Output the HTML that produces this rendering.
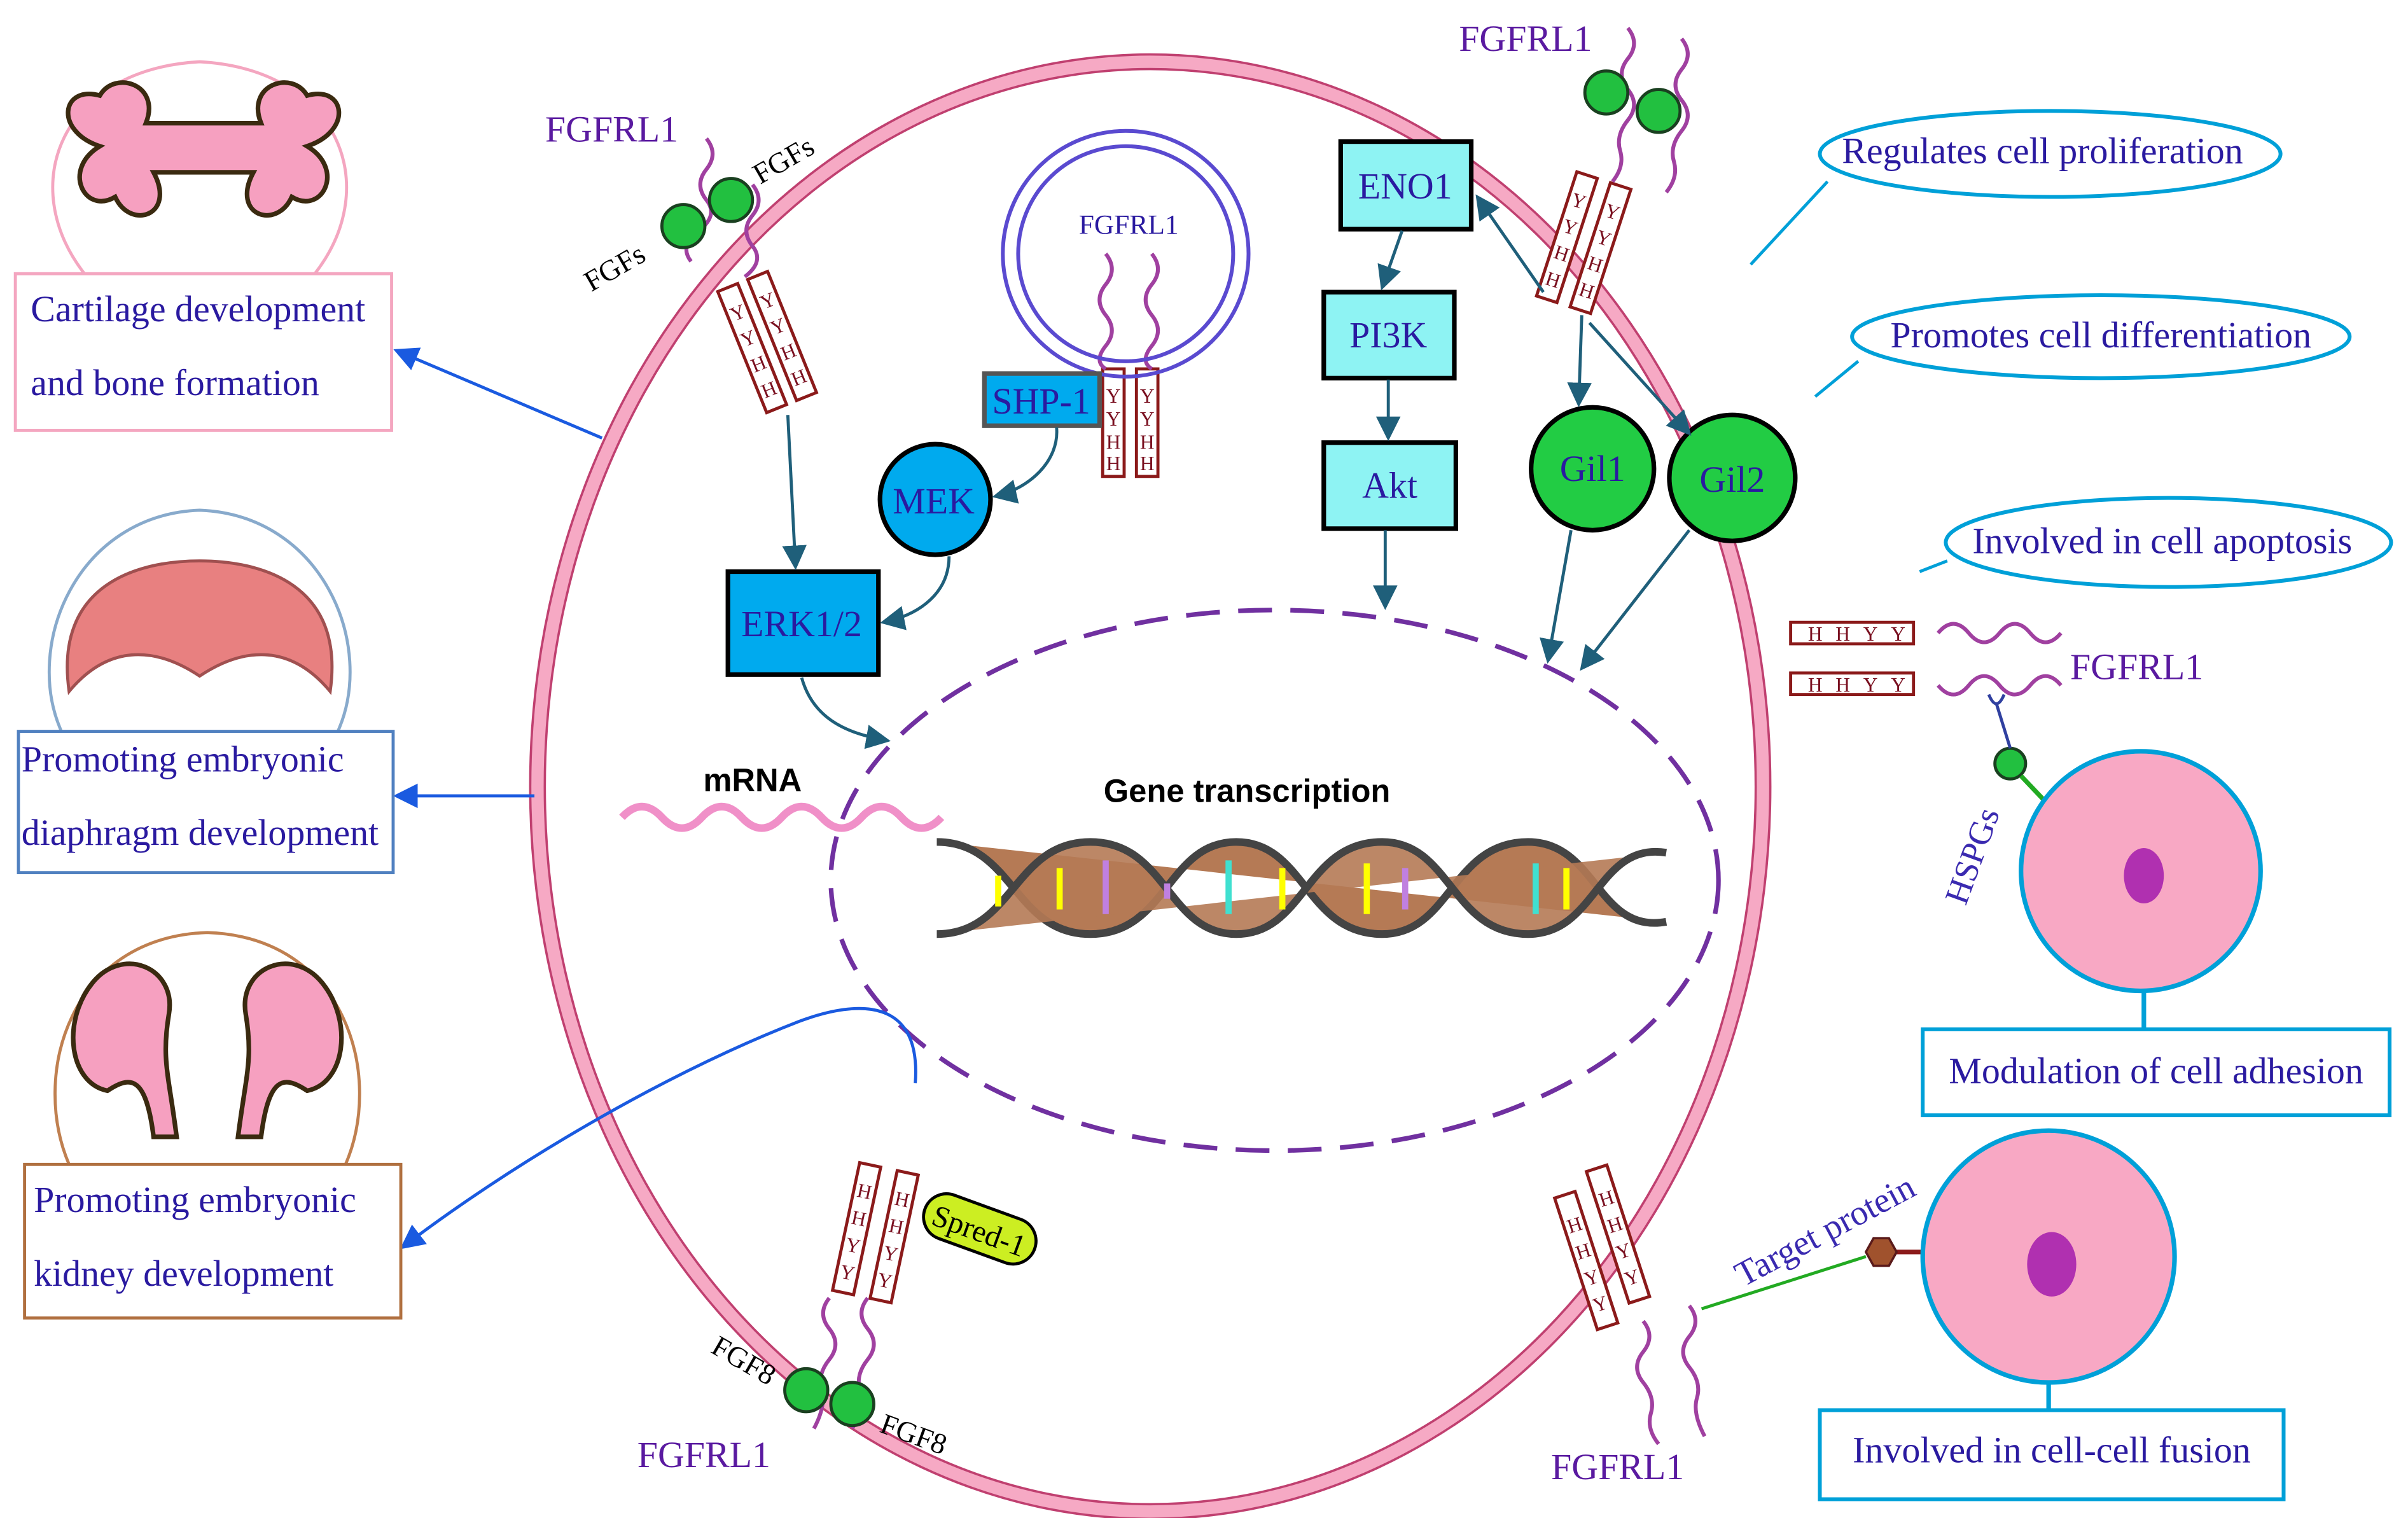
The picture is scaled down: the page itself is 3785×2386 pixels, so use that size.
<!DOCTYPE html>
<html><head><meta charset="utf-8"><style>html,body{margin:0;padding:0;background:#fff}svg{display:block}</style></head><body>
<svg width="3785" height="2386" viewBox="0 0 1568 988" xmlns="http://www.w3.org/2000/svg" font-family="Liberation Serif, serif">
<defs>
<marker id="a" markerWidth="8" markerHeight="8" refX="7" refY="4" orient="auto"><path d="M0,0 L8,4 L0,8 z" fill="#1f5f7a"/></marker>
<marker id="b" markerWidth="8" markerHeight="8" refX="7" refY="4" orient="auto"><path d="M0,0 L8,4 L0,8 z" fill="#1a5ae0"/></marker>
</defs>
<rect width="1568" height="988" fill="#fff"/>
<ellipse cx="749" cy="512" rx="399" ry="472" fill="none" stroke="#c04070" stroke-width="11"/>
<ellipse cx="749" cy="512" rx="399" ry="472" fill="none" stroke="#f6a9c4" stroke-width="8"/>
<ellipse cx="830" cy="573" rx="289" ry="176" fill="none" stroke="#7030a0" stroke-width="3" stroke-dasharray="22,12"/>
<text x="812" y="522" font-family="Liberation Sans, sans-serif" font-weight="bold" font-size="21" text-anchor="middle">Gene transcription</text>
<text x="490" y="515" font-family="Liberation Sans, sans-serif" font-weight="bold" font-size="21" text-anchor="middle">mRNA</text>
<path d="M405,532 q13,-14 26,0 t26,0 t26,0 t26,0 t26,0 t26,0 t26,0 t26,0" fill="none" stroke="#f090c8" stroke-width="5"/>
<path d="M610,548 C660,548 660,608 710,608 C760,608 760,548 805,548 C850,548 850,608 900,608 C945,608 945,548 995,548 C1040,548 1040,608 1085,600" fill="#b57a55" stroke="#444" stroke-width="5"/>
<path d="M610,608 C660,608 660,548 710,548 C760,548 760,608 805,608 C850,608 850,548 900,548 C945,548 945,608 995,608 C1040,608 1040,548 1085,555" fill="#b57a55" stroke="#444" stroke-width="5" fill-opacity="0.9"/>
<g stroke-width="4">
<line x1="690" y1="565" x2="690" y2="592" stroke="#ff0"/><line x1="720" y1="560" x2="720" y2="595" stroke="#c080e0"/><line x1="800" y1="560" x2="800" y2="595" stroke="#40e0d0"/><line x1="835" y1="565" x2="835" y2="592" stroke="#ff0"/><line x1="890" y1="562" x2="890" y2="595" stroke="#ff0"/><line x1="915" y1="565" x2="915" y2="592" stroke="#c080e0"/><line x1="1000" y1="562" x2="1000" y2="595" stroke="#40e0d0"/><line x1="1020" y1="565" x2="1020" y2="592" stroke="#ff0"/><line x1="650" y1="570" x2="650" y2="590" stroke="#ff0"/><line x1="760" y1="575" x2="760" y2="585" stroke="#c080e0"/>
</g>
<g font-size="13" fill="#7a1020" text-anchor="middle">
<g transform="rotate(-22 500 225)"><rect x="483" y="180" width="14" height="85" fill="#fff" stroke="#8b1a1a" stroke-width="2"/><rect x="504" y="180" width="14" height="85" fill="#fff" stroke="#8b1a1a" stroke-width="2"/>
<text x="490" y="202">Y</text><text x="490" y="220">Y</text><text x="490" y="238">H</text><text x="490" y="256">H</text>
<text x="511" y="202">Y</text><text x="511" y="220">Y</text><text x="511" y="238">H</text><text x="511" y="256">H</text></g>
<rect x="718" y="240" width="14" height="70" fill="#fff" stroke="#8b1a1a" stroke-width="2"/><rect x="740" y="240" width="14" height="70" fill="#fff" stroke="#8b1a1a" stroke-width="2"/>
<text x="725" y="262">Y</text><text x="725" y="277">Y</text><text x="725" y="292">H</text><text x="725" y="306">H</text>
<text x="747" y="262">Y</text><text x="747" y="277">Y</text><text x="747" y="292">H</text><text x="747" y="306">H</text>
<g transform="rotate(18 1030 160)"><rect x="1012" y="115" width="14" height="85" fill="#fff" stroke="#8b1a1a" stroke-width="2"/><rect x="1035" y="115" width="14" height="85" fill="#fff" stroke="#8b1a1a" stroke-width="2"/>
<text x="1019" y="137">Y</text><text x="1019" y="155">Y</text><text x="1019" y="173">H</text><text x="1019" y="191">H</text>
<text x="1042" y="137">Y</text><text x="1042" y="155">Y</text><text x="1042" y="173">H</text><text x="1042" y="191">H</text></g>
<rect x="1166" y="405" width="80" height="14" fill="#fff" stroke="#8b1a1a" stroke-width="2"/><rect x="1166" y="438" width="80" height="14" fill="#fff" stroke="#8b1a1a" stroke-width="2"/>
<text x="1182" y="417">H</text><text x="1200" y="417">H</text><text x="1218" y="417">Y</text><text x="1236" y="417">Y</text>
<text x="1182" y="450">H</text><text x="1200" y="450">H</text><text x="1218" y="450">Y</text><text x="1236" y="450">Y</text>
<g transform="rotate(12 570 805)"><rect x="550" y="760" width="14" height="85" fill="#fff" stroke="#8b1a1a" stroke-width="2"/><rect x="575" y="760" width="14" height="85" fill="#fff" stroke="#8b1a1a" stroke-width="2"/>
<text x="557" y="782">H</text><text x="557" y="800">H</text><text x="557" y="818">Y</text><text x="557" y="836">Y</text>
<text x="582" y="782">H</text><text x="582" y="800">H</text><text x="582" y="818">Y</text><text x="582" y="836">Y</text></g>
<g transform="rotate(-18 1050 815)"><rect x="1025" y="770" width="14" height="90" fill="#fff" stroke="#8b1a1a" stroke-width="2"/><rect x="1050" y="760" width="14" height="90" fill="#fff" stroke="#8b1a1a" stroke-width="2"/>
<text x="1032" y="795">H</text><text x="1032" y="813">H</text><text x="1032" y="831">Y</text><text x="1032" y="849">Y</text>
<text x="1057" y="785">H</text><text x="1057" y="803">H</text><text x="1057" y="821">Y</text><text x="1057" y="839">Y</text></g>
</g>
<g fill="none" stroke="#a040a0" stroke-width="2.5">
<path d="M460,90 q8,10 0,20 t0,20 t-5,20 t-5,20"/><path d="M490,120 q8,10 0,20 t0,20 t-5,20"/>
<path d="M720,165 q8,10 0,20 t0,20 t0,20 t0,15"/><path d="M750,165 q8,10 0,20 t0,20 t0,20 t0,15"/>
<path d="M1060,18 q8,10 0,20 t0,20 t0,20 t-5,20 t-5,20"/><path d="M1095,25 q8,10 0,20 t0,20 t0,20 t-5,20 t-5,20"/>
<path d="M1262,412 q10,-12 20,0 t20,0 t20,0 t20,0"/><path d="M1262,446 q10,12 20,0 t20,0 t20,0 t20,0"/>
<path d="M540,845 q-8,10 0,20 t0,20 t-5,20 t-5,25"/><path d="M565,845 q-8,10 0,20 t0,20 t-5,20 t-5,25"/>
<path d="M1070,860 q8,10 0,20 t0,20 t5,20 t5,20"/><path d="M1100,850 q8,10 0,20 t0,20 t5,20 t5,25"/>
</g>
<g fill="#22c040" stroke="#1a4020" stroke-width="2">
<circle cx="445" cy="147" r="14"/><circle cx="476" cy="130" r="14"/>
<circle cx="1046" cy="60" r="14"/><circle cx="1080" cy="72" r="14"/>
<circle cx="525" cy="905" r="14"/><circle cx="555" cy="914" r="14"/>
<circle cx="1309" cy="497" r="10"/>
</g>
<circle cx="733" cy="165" r="80" fill="none" stroke="#5a4ad0" stroke-width="2.5"/>
<circle cx="733" cy="165" r="70" fill="none" stroke="#5a4ad0" stroke-width="2.5"/>
<text x="735" y="152" font-size="18" fill="#2a1aa0" text-anchor="middle">FGFRL1</text>
<g stroke="#000" stroke-width="3">
<rect x="873" y="92" width="85" height="57" fill="#8ef3f3"/>
<rect x="862" y="190" width="85" height="56" fill="#8ef3f3"/>
<rect x="862" y="288" width="86" height="56" fill="#8ef3f3"/>
<rect x="474" y="372" width="98" height="67" fill="#00aaee"/>
<circle cx="609" cy="325" r="36" fill="#00aaee"/>
<circle cx="1037" cy="305" r="40" fill="#22cc44"/>
<circle cx="1128" cy="311" r="41" fill="#22cc44"/>
</g>
<rect x="641" y="243" width="75" height="34" fill="#00aaee" stroke="#555" stroke-width="3"/>
<g font-size="24" fill="#2a1aa0" text-anchor="middle">
<text x="915" y="129">ENO1</text><text x="904" y="226">PI3K</text><text x="905" y="324">Akt</text>
<text x="522" y="414">ERK1/2</text><text x="608" y="334">MEK</text><text x="678" y="269">SHP-1</text>
<text x="1037" y="313">Gil1</text><text x="1128" y="320">Gil2</text>
</g>
<g fill="none" stroke="#1f5f7a" stroke-width="2" marker-end="url(#a)">
<line x1="913" y1="150" x2="900" y2="187"/><line x1="904" y1="247" x2="904" y2="285"/><line x1="902" y1="345" x2="902" y2="395"/>
<line x1="1005" y1="190" x2="962" y2="128"/><line x1="1030" y1="205" x2="1028" y2="263"/><line x1="1035" y1="210" x2="1100" y2="282"/>
<line x1="1023" y1="345" x2="1008" y2="430"/><line x1="1100" y1="345" x2="1030" y2="435"/>
<line x1="513" y1="270" x2="518" y2="369"/>
<path d="M688,278 C690,300 670,318 648,323"/><path d="M618,362 C618,385 600,400 575,405"/>
<path d="M522,441 C530,470 555,478 578,482"/>
</g>
<path d="M596,705 C600,650 560,650 520,665 C430,700 330,760 262,812" fill="none" stroke="#1a5ae0" stroke-width="2" marker-end="url(#b)"/>
<g stroke="#1a5ae0" stroke-width="2" marker-end="url(#b)"><line x1="392" y1="285" x2="258" y2="228"/><line x1="348" y1="518" x2="258" y2="518"/></g>
<g font-size="24" fill="#5a1aa0">
<text x="355" y="92">FGFRL1</text><text x="950" y="33">FGFRL1</text><text x="1348" y="442">FGFRL1</text>
<text x="415" y="955">FGFRL1</text><text x="1010" y="963">FGFRL1</text>
</g>
<g font-size="19" fill="#000">
<text x="385" y="190" transform="rotate(-30 385 190)">FGFs</text><text x="495" y="120" transform="rotate(-30 495 120)">FGFs</text>
<text x="462" y="880" transform="rotate(30 462 880)">FGF8</text><text x="572" y="932" transform="rotate(20 572 932)">FGF8</text>
</g>
<g transform="rotate(20 638 800)"><rect x="600" y="785" width="76" height="30" rx="15" fill="#ccee22" stroke="#000" stroke-width="2"/><text x="638" y="808" font-size="20" text-anchor="middle">Spred-1</text></g>
<path d="M1295,452 q5,12 10,0" fill="none" stroke="#3040a0" stroke-width="2"/>
<line x1="1300" y1="458" x2="1309" y2="487" stroke="#3040a0" stroke-width="2"/>
<line x1="1316" y1="505" x2="1335" y2="525" stroke="#22aa22" stroke-width="3"/>
<text x="1280" y="590" font-size="22" fill="#3a2ab0" transform="rotate(-70 1280 590)">HSPGs</text>
<line x1="1108" y1="852" x2="1215" y2="818" stroke="#22aa22" stroke-width="2"/>
<line x1="1232" y1="815" x2="1255" y2="815" stroke="#8b1a1a" stroke-width="3"/>
<polygon points="1215,815 1220,806 1230,806 1235,815 1230,824 1220,824" fill="#a0522d" stroke="#5a1a1a" stroke-width="1.5"/>
<text x="1135" y="838" font-size="23" fill="#3a2ab0" transform="rotate(-28 1135 838)">Target protein</text>
<circle cx="1394" cy="567" r="78" fill="#f8a8c4" stroke="#00a0d8" stroke-width="3"/>
<ellipse cx="1396" cy="570" rx="13" ry="18" fill="#b030b0"/>
<circle cx="1334" cy="818" r="82" fill="#f8a8c4" stroke="#00a0d8" stroke-width="3"/>
<ellipse cx="1336" cy="823" rx="16" ry="21" fill="#b030b0"/>
<line x1="1396" y1="645" x2="1396" y2="670" stroke="#00a0d8" stroke-width="3"/>
<line x1="1334" y1="900" x2="1334" y2="918" stroke="#00a0d8" stroke-width="3"/>
<g fill="#fff" stroke="#00a0d8" stroke-width="2.5">
<ellipse cx="1335" cy="100" rx="150" ry="28"/><ellipse cx="1368" cy="219" rx="162" ry="27"/><ellipse cx="1412" cy="353" rx="145" ry="29"/>
<rect x="1252" y="670" width="304" height="56"/><rect x="1185" y="918" width="302" height="58"/>
</g>
<g stroke="#00a0d8" stroke-width="2"><line x1="1190" y1="118" x2="1140" y2="172"/><line x1="1210" y1="235" x2="1182" y2="258"/><line x1="1268" y1="365" x2="1250" y2="372"/></g>
<g font-size="24" fill="#2a1aa0" text-anchor="middle">
<text x="1330" y="106">Regulates cell proliferation</text><text x="1368" y="226">Promotes cell differentiation</text><text x="1408" y="360">Involved in cell apoptosis</text>
<text x="1404" y="705">Modulation of cell adhesion</text><text x="1336" y="952">Involved in cell-cell fusion</text>
</g>
<path d="M55,178 C10,120 40,45 130,40 C220,45 250,120 205,178" fill="#fff" stroke="#f4a6c0" stroke-width="2"/>
<path d="M65,95 C35,85 40,55 65,62 C75,45 105,55 95,80 L170,80 C160,55 190,45 200,62 C225,55 230,85 200,95 C225,110 210,140 190,128 C180,150 150,140 165,112 L100,112 C115,140 85,150 75,128 C55,140 40,110 65,95 Z" fill="#f6a0c0" stroke="#3a2a10" stroke-width="3"/>
<rect x="10" y="178" width="245" height="102" fill="#fff" stroke="#f4a6c0" stroke-width="2"/>
<path d="M40,476 C15,420 50,335 130,332 C210,335 245,420 220,476" fill="#fff" stroke="#88aacc" stroke-width="2"/>
<path d="M45,450 C35,380 90,365 130,365 C170,365 225,380 215,450 C190,420 160,420 130,440 C100,420 70,420 45,450 Z" fill="#e88080" stroke="#a05050" stroke-width="2"/>
<rect x="12" y="476" width="244" height="92" fill="#fff" stroke="#5080c0" stroke-width="2"/>
<path d="M45,758 C20,700 45,610 135,607 C225,610 250,700 225,758" fill="#fff" stroke="#c08050" stroke-width="2"/>
<path d="M60,640 C80,615 115,630 110,660 C105,690 110,700 115,740 L100,740 C95,700 85,700 70,710 C45,705 40,665 60,640 Z" fill="#f6a0c0" stroke="#3a2a10" stroke-width="3"/>
<path d="M210,640 C190,615 155,630 160,660 C165,690 160,700 155,740 L170,740 C175,700 185,700 200,710 C225,705 230,665 210,640 Z" fill="#f6a0c0" stroke="#3a2a10" stroke-width="3"/>
<rect x="16" y="758" width="245" height="100" fill="#fff" stroke="#b07040" stroke-width="2"/>
<g font-size="24" fill="#2a1aa0">
<text x="20" y="209">Cartilage development</text><text x="20" y="257">and bone formation</text>
<text x="14" y="502">Promoting embryonic</text><text x="14" y="550">diaphragm development</text>
<text x="22" y="789">Promoting embryonic</text><text x="22" y="837">kidney development</text>
</g>
</svg>
</body></html>
